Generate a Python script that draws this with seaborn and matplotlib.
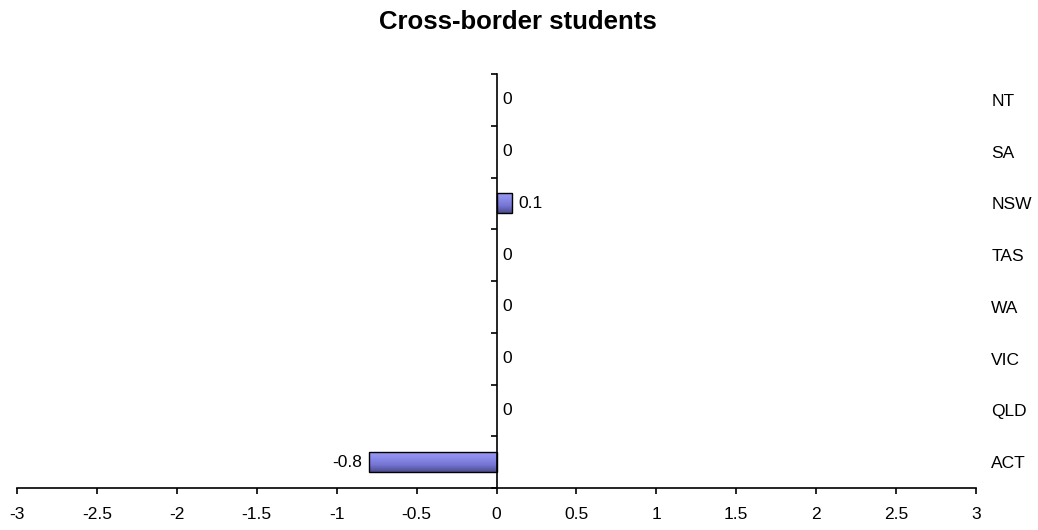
import matplotlib
matplotlib.use('Agg')
import matplotlib.pyplot as plt
from matplotlib.ticker import FixedLocator
from matplotlib.colors import LinearSegmentedColormap
import numpy as np
import pandas as pd
import seaborn as sns

# dados
estados = ['NT', 'SA', 'NSW', 'TAS', 'WA', 'VIC', 'QLD', 'ACT']
valores = [0, 0, 0.1, 0, 0, 0, 0, -0.8]
ticks_x = [-3, -2.5, -2, -1.5, -1, -0.5, 0, 0.5, 1, 1.5, 2, 2.5, 3]
titulo = 'Cross-border students'

df = pd.DataFrame({'estado': estados, 'valor': valores})

sns.set_theme(style='white')
plt.rcParams['font.family'] = ['Liberation Sans', 'DejaVu Sans']
plt.rcParams['text.color'] = 'black'

fig = plt.figure(figsize=(10.38, 5.30), dpi=100)
ax = fig.add_axes([17 / 1038, 42 / 530, 959 / 1038, 414 / 530])

sns.barplot(data=df, x='valor', y='estado', order=estados, orient='h',
            width=0.39, color='#8080e0', edgecolor='black', linewidth=1.0, ax=ax)

# gradiente tipo Excel nas barras (claro em cima, escuro embaixo)
cmap = LinearSegmentedColormap.from_list('excel', ['#9c9cf6', '#8a8aea', '#7474d2', '#4c4c8e'])
grad = np.linspace(0, 1, 64).reshape(-1, 1)
for barra in ax.patches:
    x0, y0 = barra.get_x(), barra.get_y()
    w, h = barra.get_width(), barra.get_height()
    if w == 0:
        barra.set_linewidth(0)
        continue
    xa, xb = min(x0, x0 + w), max(x0, x0 + w)
    im = ax.imshow(grad, cmap=cmap, aspect='auto', extent=[xa, xb, y0 + h, y0],
                   zorder=barra.get_zorder() - 0.1, interpolation='bilinear')
    im.set_clip_path(barra)
    barra.set_facecolor('none')

ax.set_xlim(-3, 3)
ax.set_ylim(7.5, -0.5)
ax.set_xlabel('')
ax.set_ylabel('')

# rótulos de dados
for i, v in enumerate(valores):
    if v < 0:
        ax.annotate('{:g}'.format(v), xy=(v, i), xytext=(-5, 0), textcoords='offset points',
                    ha='right', va='center', fontsize=12.5, color='black')
    else:
        ax.annotate('{:g}'.format(v), xy=(v, i), xytext=(4.5, 0), textcoords='offset points',
                    ha='left', va='center', fontsize=12.5, color='black')

ax.set_xticks(ticks_x)
ax.set_xticklabels(['{:g}'.format(t) for t in ticks_x])

# eixo y no zero, rótulos à direita
ax.spines['left'].set_position(('data', 0))
ax.spines['top'].set_visible(False)
ax.spines['right'].set_visible(False)
for s in ['left', 'bottom']:
    ax.spines[s].set_color('black')
    ax.spines[s].set_linewidth(1.2)

ax.yaxis.set_minor_locator(FixedLocator(np.arange(-0.5, 8, 1)))
ax.tick_params(axis='y', which='major', length=0, left=False, right=False,
               labelleft=False, labelright=True, pad=11, labelsize=12.5, colors='black')
ax.tick_params(axis='y', which='minor', length=4, width=1.2, left=True, direction='out', color='black')
ax.tick_params(axis='x', which='major', length=4, width=1.2, bottom=True, direction='out',
               labelsize=12.5, pad=10, colors='black')

fig.suptitle(titulo, fontsize=18.5, fontweight='bold', color='black',
             y=1 - 22 / 530, va='center', x=518 / 1038)

fig.savefig('out.png', dpi=100, facecolor='white')
